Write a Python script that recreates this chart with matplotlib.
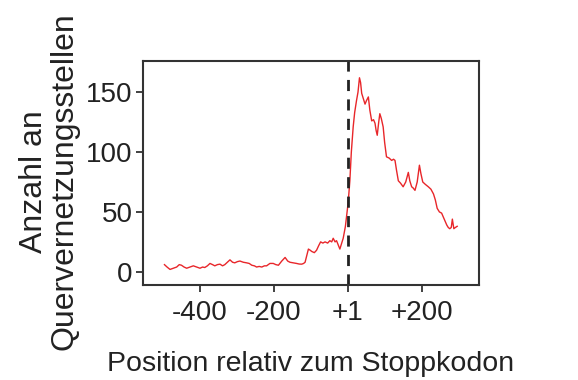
import matplotlib
matplotlib.use("Agg")
import matplotlib.pyplot as plt

plt.rcParams['font.family'] = ['Liberation Sans', 'DejaVu Sans']

position = [-495, -488, -480, -471, -462, -455, -449, -442, -435, -426, -417, -408, -399, -392,
            -386, -379, -372, -365, -359, -352, -345, -338, -332, -325, -318, -311, -305, -298,
            -291, -282, -273, -266, -259, -252, -246, -239, -232, -225, -219, -210, -201, -194,
            -187, -178, -169, -162, -156, -147, -138, -131, -124, -119, -115, -110, -106, -101,
            -97, -90, -84, -78, -73, -67, -61, -54, -48, -43, -39, -34, -30, -25, -21, -16, -12,
            -6, 0, 3, 6, 10, 15, 19, 24, 28, 32, 35, 38, 42, 47, 51, 56, 60, 65, 70, 74, 77, 80,
            84, 87, 91, 96, 100, 105, 112, 119, 124, 128, 132, 137, 143, 150, 157, 164, 168, 173,
            177, 182, 188, 194, 198, 203, 210, 218, 225, 232, 237, 242, 248, 254, 261, 268, 272,
            276, 280, 283, 285, 287, 291, 296]
counts = [6, 4, 2, 3, 4, 6, 5.5, 4, 3, 4, 5, 4, 3, 4,
          3.6, 5, 7, 6, 5, 6, 6.4, 5, 6, 8, 10, 8, 7.5, 8.5,
          9, 8, 7.5, 7, 5.5, 5, 4, 4.5, 4, 5, 5, 7, 7, 6,
          5.5, 9, 12, 9, 8, 7.5, 7, 6.5, 6.4, 7, 8, 14, 19, 18,
          17, 16, 18, 22, 25, 24, 25, 24, 26, 25, 28, 25, 26, 22, 19, 24, 28,
          38, 54, 64, 76, 100, 121, 133, 143, 150, 162, 158, 149, 145, 140, 143, 146, 135, 126, 127, 124, 118, 114,
          125, 132, 128, 121, 108, 96, 95, 93, 94, 93, 85, 76, 74, 71, 75, 83, 76, 71,
          70, 68, 75, 89, 82, 75, 73, 71, 69, 65, 60, 53, 50, 49, 44, 39, 37,
          36, 37, 44, 40, 36, 37, 38]

xtick_values = [-400, -200, 0, 200]
xtick_labels = ['-400', '-200', '+1', '+200']
ytick_values = [0, 50, 100, 150]

fig = plt.figure(figsize=(5.78, 3.8), dpi=100)
ax = fig.add_axes([143/578, 1 - 285/380, (479 - 143)/578, (285 - 61)/380])

ax.plot(position, counts, color='#e8262a', linewidth=1.0)
ax.axvline(0, color='#222222', linestyle=(0, (4, 3)), linewidth=2.0)

ax.set_xlim(-553, 355)
ax.set_ylim(-11, 176)
ax.set_xticks(xtick_values)
ax.set_xticklabels(xtick_labels)
ax.set_yticks(ytick_values)

for s in ax.spines.values():
    s.set_linewidth(1.5)
    s.set_color('#333333')
ax.tick_params(axis='both', labelsize=20, length=5, width=1.3, color='#333333',
               labelcolor='#222222')
ax.tick_params(axis='x', pad=6)
ax.tick_params(axis='y', pad=2.5)

ax.set_xlabel('Position relativ zum Stoppkodon', fontsize=20.5, color='#222222', labelpad=18)
ax.set_ylabel('Anzahl an\nQuervernetzungsstellen', fontsize=23, color='#222222',
              labelpad=7, linespacing=1.0)
ax.yaxis.set_label_coords(-0.19, 0.462)

fig.savefig('out.png', dpi=100, facecolor='white')
